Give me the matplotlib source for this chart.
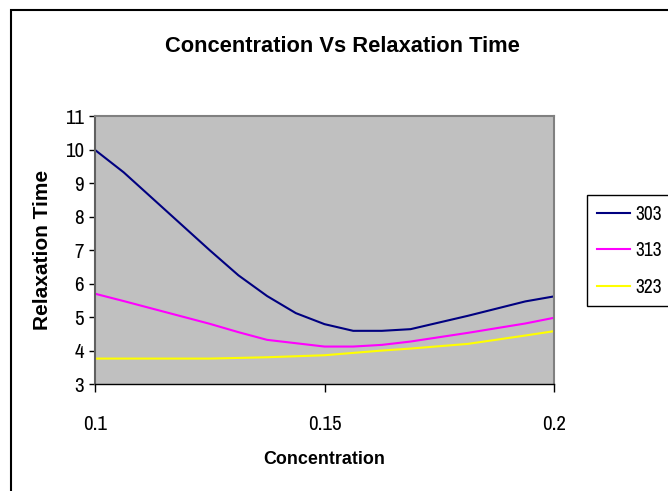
import matplotlib
matplotlib.use("Agg")
import matplotlib.pyplot as plt
from matplotlib import font_manager
from matplotlib.patches import Rectangle

# look for a narrow sans face for the regular text
weights = {}
for f in font_manager.fontManager.ttflist:
    if 'Narrow' in f.name or 'Condensed' in f.name:
        w = f.weight if isinstance(f.weight, int) else font_manager.weight_dict.get(f.weight, 400)
        weights.setdefault(f.name, set()).add(w)
regular_faces = sorted(n for n, ws in weights.items() if min(ws) <= 500)

if regular_faces:
    plain_font, plain_k = [regular_faces[0], 'DejaVu Sans'], 1.0
else:
    plain_font, plain_k = ['Liberation Sans', 'DejaVu Sans'], 0.85
# bold text: the same narrow face when it has a bold cut, else Arial-like bold, smaller
if regular_faces and max(weights[regular_faces[0]]) >= 600:
    bold_font, bold_k = plain_font, 1.0
else:
    bold_font, bold_k = ['Liberation Sans', 'DejaVu Sans'], 0.83
plt.rcParams['font.family'] = plain_font

# concentration values and relaxation times at three temperatures
concentration = [0.1, 0.10625, 0.125, 0.13125, 0.1375, 0.14375, 0.15,
                 0.15625, 0.1625, 0.16875, 0.18125, 0.19375, 0.2]
t303 = [10.0, 9.33, 7.0, 6.25, 5.63, 5.12, 4.79, 4.59, 4.59, 4.64, 5.04, 5.47, 5.62]
t313 = [5.7, 5.48, 4.8, 4.55, 4.32, 4.22, 4.12, 4.12, 4.17, 4.27, 4.53, 4.81, 4.98]
t323 = [3.76, 3.76, 3.76, 3.78, 3.8, 3.83, 3.86, 3.93, 4.0, 4.06, 4.2, 4.45, 4.58]
series_labels = ['303', '313', '323']
series_colors = ['#000080', '#FF00FF', '#FFFF00']

W, H = 668, 491
fig = plt.figure(figsize=(W / 100, H / 100), dpi=100)

# chart border
fig.patches.append(Rectangle((11 / W, -0.02), 1.05, 1 - 10 / H + 0.02,
                             transform=fig.transFigure, fill=False,
                             edgecolor='black', linewidth=1.5))

ax = fig.add_axes([95 / W, 1 - 384 / H, (554 - 95) / W, (384 - 116.5) / H])
ax.set_facecolor('#C0C0C0')

for ys, lab, col in zip([t303, t313, t323], series_labels, series_colors):
    ax.plot(concentration, ys, color=col, linewidth=1.5, label=lab)

ax.set_xlim(0.1, 0.2)
ax.set_ylim(3, 11)
ax.set_xticks([0.1, 0.15, 0.2])
ax.set_xticklabels(['0.1', '0.15', '0.2'])
ax.set_yticks(range(3, 12))
ax.tick_params(axis='x', direction='out', length=6, width=1, pad=16, labelsize=15 * plain_k)
ax.tick_params(axis='y', direction='out', length=4, width=1, pad=4, labelsize=15 * plain_k)

for side in ['top', 'right']:
    ax.spines[side].set_color('#808080')
    ax.spines[side].set_linewidth(1.5)
ax.spines['left'].set_color('#606060')
ax.spines['left'].set_linewidth(1.5)
ax.spines['bottom'].set_color('black')
ax.spines['bottom'].set_linewidth(1)

fig.text(342 / W, 1 - 47 / H, 'Concentration Vs Relaxation Time',
         ha='center', va='center', fontsize=19 * bold_k, fontweight='bold',
         family=bold_font)
fig.text(324 / W, 1 - 460 / H, 'Concentration', ha='center', va='center',
         fontsize=15.5 * bold_k, fontweight='bold', family=bold_font)
fig.text(43 / W, 1 - 250 / H, 'Relaxation Time', ha='center', va='center',
         rotation=90, fontsize=15, fontweight='bold',
         family=['Liberation Sans', 'DejaVu Sans'])

leg = fig.legend(loc='upper left', bbox_to_anchor=(587 / W, 1 - 195 / H),
                 fontsize=14 * plain_k, frameon=True, fancybox=False, edgecolor='black',
                 framealpha=1, borderaxespad=0, handlelength=1.7, handletextpad=0.3,
                 labelspacing=0.9, borderpad=0.5)
leg.get_frame().set_linewidth(1)

fig.savefig('out.png', dpi=100)
